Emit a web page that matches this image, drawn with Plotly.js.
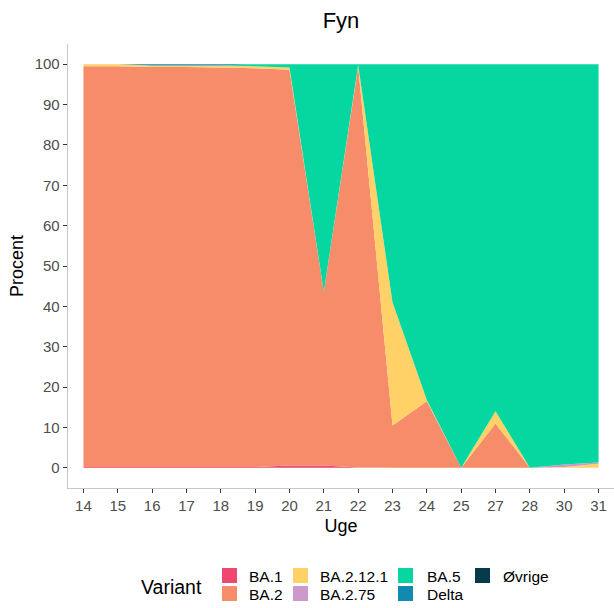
<!DOCTYPE html>
<html>
<head>
<meta charset="utf-8">
<script src="https://cdn.plot.ly/plotly-3.0.1.min.js"></script>
<style>html,body{margin:0;padding:0;background:#fff;}#chart{width:614px;height:608px;}</style>
</head>
<body>
<div id="chart"></div>
<script>
// Weeks (categorical x axis)
const weeks = ["14","15","16","17","18","19","20","21","22","23","24","25","27","28","30","31"];
// Series values (percent), stacked bottom to top
const variants = ["BA.1","BA.2","BA.2.12.1","BA.2.75","BA.5","Delta","Øvrige"];
const ba1     = [0.2, 0.2, 0.2, 0.2, 0.2, 0.2, 0.6, 0.6, 0.1, 0, 0, 0, 0, 0, 0, 0];
const ba2     = [99.3, 99.3, 99.1, 99.1, 99.0, 98.8, 98.0, 43.0, 99.4, 10.5, 16.5, 0, 11.0, 0, 0, 0];
const ba2121  = [0.5, 0.5, 0.4, 0.4, 0.5, 0.5, 0.6, 0, 0.3, 30.5, 0.3, 0, 3.0, 0, 0.2, 1.0];
const ba275   = [0, 0, 0, 0, 0, 0, 0, 0, 0, 0, 0, 0, 0, 0, 0.6, 0.3];
const ba5     = [0, 0, 0, 0, 0, 0.5, 0.8, 56.4, 0.2, 59.0, 83.2, 100, 86.0, 100, 99.2, 98.7];
const delta   = [0, 0, 0.3, 0.3, 0.3, 0, 0, 0, 0, 0, 0, 0, 0, 0, 0, 0];
const ovrige  = [0, 0, 0, 0, 0, 0, 0, 0, 0, 0, 0, 0, 0, 0, 0, 0];
const yTicks  = [0,10,20,30,40,50,60,70,80,90,100];

const series = [ba1, ba2, ba2121, ba275, ba5, delta, ovrige];
const colors = ["#EF476F","#F78C6B","#FFD166","#CC99CC","#06D6A0","#118AB2","#073B4C"];

const traces = variants.map((name, i) => ({
  type: "scatter",
  x: weeks,
  y: series[i],
  name: name,
  stackgroup: "one",
  mode: "none",
  fillcolor: colors[i],
  line: {width: 0},
  showlegend: false,
  hoverinfo: "x+y+name"
}));

// plot area in px
const L = 68, R = 614, T = 44, B = 488;
const W = 614, H = 608;
const px = x => (x - L) / (R - L);
const py = y => (B - y) / (B - T);

// manual ggplot-style legend (two rows, column-major)
const legendCols = [
  {sq: 222, lab: 247, items: [0, 1]},
  {sq: 293, lab: 318, items: [2, 3]},
  {sq: 398, lab: 425, items: [4, 5]},
  {sq: 475, lab: 501, items: [6]}
];
const rowTop = [568, 586];
const shapes = [];
const annotations = [];
legendCols.forEach(c => {
  c.items.forEach((vi, r) => {
    shapes.push({type: "rect", xref: "paper", yref: "paper",
      x0: px(c.sq), x1: px(c.sq + 15), y0: py(rowTop[r] + 15), y1: py(rowTop[r]),
      fillcolor: colors[vi], line: {width: 0}});
    annotations.push({xref: "paper", yref: "paper", x: px(c.lab), y: py(rowTop[r] + 8),
      xanchor: "left", yanchor: "middle", text: variants[vi], showarrow: false,
      font: {family: "Liberation Sans, Arial, sans-serif", size: 15.5, color: "#000"}});
  });
});
annotations.push({xref: "paper", yref: "paper", x: px(139), y: py(587),
  xanchor: "left", yanchor: "middle", text: "Variant", showarrow: false,
  font: {family: "Liberation Sans, Arial, sans-serif", size: 19.5, color: "#000"}});

const layout = {
  width: W, height: H,
  margin: {l: L, r: W - R, t: T, b: H - B, pad: 0},
  paper_bgcolor: "#fff", plot_bgcolor: "#fff",
  font: {family: "Liberation Sans, Arial, sans-serif", color: "#000"},
  title: {text: "Fyn", x: (L + R) / 2 / W, xanchor: "center", y: 1 - 20 / H, yanchor: "middle",
          font: {size: 22, color: "#000"}},
  showlegend: false,
  xaxis: {
    type: "category", categoryorder: "array", categoryarray: weeks,
    range: [-0.45, 15.45],
    showgrid: false, zeroline: false,
    showline: true, linecolor: "#C8C8C8", linewidth: 1.3,
    ticks: "outside", ticklen: 4, tickcolor: "#333", tickwidth: 1,
    tickfont: {size: 15, color: "#4D4D4D"},
    title: {text: "Uge", font: {size: 18, color: "#000"}, standoff: 6}
  },
  yaxis: {
    range: [-5, 105],
    tickvals: yTicks, ticktext: yTicks.map(String),
    showgrid: false, zeroline: false,
    showline: true, linecolor: "#C8C8C8", linewidth: 1.3,
    ticks: "outside", ticklen: 4, tickcolor: "#333", tickwidth: 1,
    tickfont: {size: 15, color: "#4D4D4D"},
    title: {text: "Procent", font: {size: 18, color: "#000"}, standoff: 6}
  },
  shapes: shapes,
  annotations: annotations
};

Plotly.newPlot("chart", traces, layout, {displayModeBar: false, staticPlot: true});
</script>
</body>
</html>
